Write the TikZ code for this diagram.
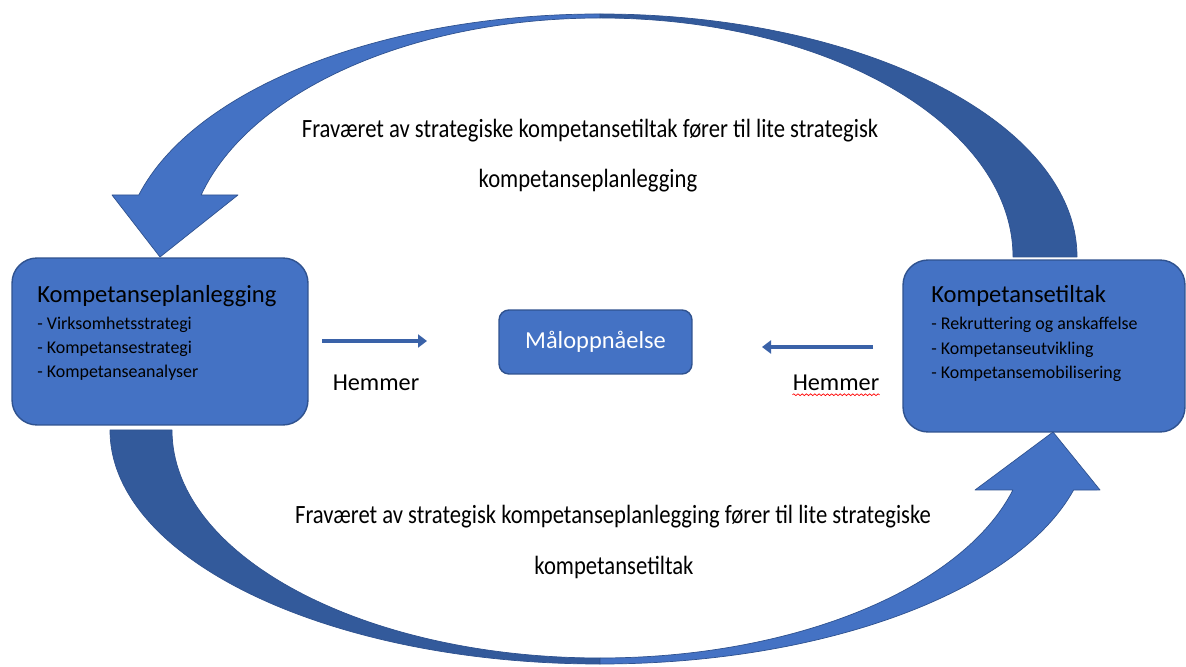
\documentclass[tikz,border=0pt]{standalone}
\usepackage{fontspec}
\setmainfont{Carlito}
\newfontfamily\narrowfont[FakeStretch=0.86]{Carlito}
\usetikzlibrary{arrows.meta,calc,decorations.pathmorphing}
\definecolor{boxblue}{HTML}{4472C4}
\definecolor{boxedge}{HTML}{2F528F}
\definecolor{backblue}{HTML}{335A9B}
\definecolor{hemblue}{HTML}{3A62A8}
\tikzset{
  pane/.style={draw=boxedge, fill=boxblue, line width=0.8pt, rounded corners=0.5cm},
  head/.style={anchor=west, inner sep=0pt, font=\fontsize{14}{16}\selectfont},
  item/.style={anchor=west, inner sep=0pt, font=\fontsize{10.2}{12}\selectfont},
  note/.style={inner sep=0pt, font=\narrowfont\fontsize{15}{17}\selectfont},
  hemtext/.style={inner sep=0pt, font=\fontsize{13.8}{16}\selectfont},
  band/.style={fill=boxblue, draw=boxedge, line width=0.4pt, line join=round},
  bandback/.style={band, fill=backblue},
  hem/.style={-{Triangle[length=1.8mm, width=2.6mm]}, line width=2.4pt, draw=hemblue},
  squiggle/.style={draw=red, line width=0.4pt, decorate,
                   decoration={snake, amplitude=0.5pt, segment length=2.4pt}},
}
\begin{document}
\begin{tikzpicture}[x=0.02cm, y=0.02cm]
  \useasboundingbox (0,0) rectangle (1186,666);
  % top loop: back half, then front half with the head
  \draw[bandback] (600,652) arc[start angle=90, end angle=0, x radius=477, y radius=243]
    -- (1013,409) arc[start angle=0, end angle=90, x radius=413, y radius=239] -- cycle;
  \draw[band] (160,409) -- (112,471) -- (138.8,471)
    arc[start angle=165.22, end angle=90, x radius=477, y radius=243]
    -- (600,648) arc[start angle=90, end angle=164.96, x radius=413, y radius=239]
    -- (238,471) -- cycle;
  % bottom loop
  \draw[bandback] (110,236) arc[start angle=180, end angle=270, x radius=490, y radius=234]
    -- (600,8) arc[start angle=270, end angle=180, x radius=428, y radius=228] -- cycle;
  \draw[band] (600,2) arc[start angle=270, end angle=345.14, x radius=490, y radius=234]
    -- (1100,176) -- (1053,234) -- (975,176) -- (1012.9,176)
    arc[start angle=344.74, end angle=270, x radius=428, y radius=228] -- cycle;

  \node[pane, minimum width=5.92cm, minimum height=3.34cm] (plan) at (160,324.5) {};
  \node[pane, minimum width=5.64cm, minimum height=3.44cm] (tiltak) at (1044,320) {};
  \node[pane, rounded corners=0.2cm, minimum width=3.86cm, minimum height=1.28cm,
        text=white, font=\fontsize{13.9}{16}\selectfont] (maal) at (595.5,324) {Måloppnåelse};

  \node[head] (plan-title) at (37,370) {Kompetanseplanlegging};
  \foreach \t [count=\i] in {Virksomhetsstrategi, Kompetansestrategi, Kompetanseanalyser}
    \node[item] (plan-\i) at (37,365-24*\i) {- \t};
  \node[head] (tiltak-title) at (931,370) {Kompetansetiltak};
  \foreach \t [count=\i] in {Rekruttering og anskaffelse, Kompetanseutvikling, Kompetansemobilisering}
    \node[item] (tiltak-\i) at (931,365.5-24.5*\i) {- \t};

  % hemmer arrows
  \coordinate (hl-a) at (322,325);
  \coordinate (hl-b) at (427,325);
  \coordinate (hr-a) at (873,319);
  \coordinate (hr-b) at (762,319);
  \draw[hem] (hl-a) -- (hl-b);
  \draw[hem] (hr-a) -- (hr-b);
  \node[hemtext] (hem-l) at (376,283) {Hemmer};
  \node[hemtext] (hem-r) at (836,283) {Hemmer};
  \draw[squiggle] ([yshift=-2pt]hem-r.south west) -- ([yshift=-2pt]hem-r.south east);

  \node[note] (top-1) at (590,535) {Fraværet av strategiske kompetansetiltak fører til lite strategisk};
  \node[note] (top-2) at (588,485) {kompetanseplanlegging};
  \node[note] (bot-1) at (613,149) {Fraværet av strategisk kompetanseplanlegging fører til lite strategiske};
  \node[note] (bot-2) at (614,99) {kompetansetiltak};
\end{tikzpicture}
\end{document}
